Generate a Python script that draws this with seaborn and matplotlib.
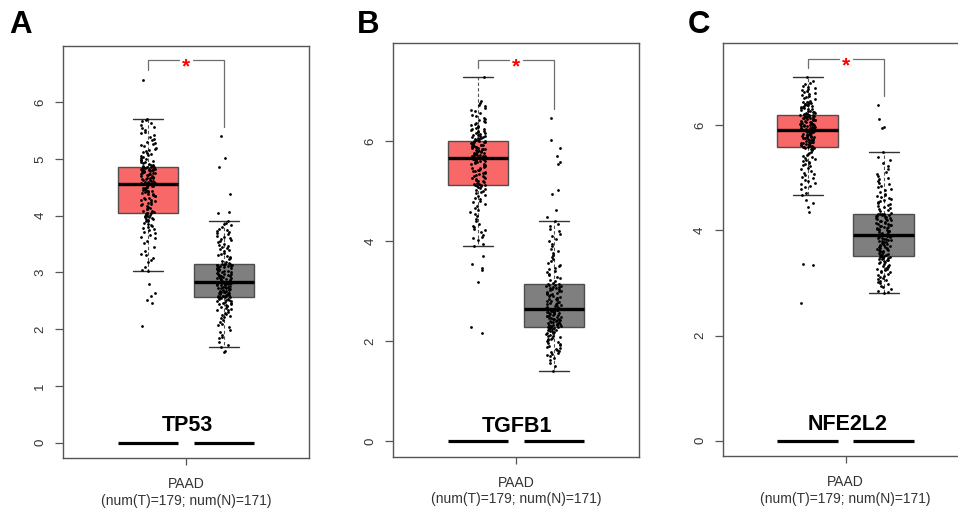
import numpy as np
import pandas as pd
import matplotlib
matplotlib.use("Agg")
import matplotlib.pyplot as plt
import seaborn as sns

# ==============================
# DATA (expression values)
# ==============================

genes = ["TP53", "TGFB1", "NFE2L2"]
panel_letters = ["A", "B", "C"]
groups = ["Tumor", "Normal"]
cancer = "PAAD"
n_tumor = 179
n_normal = 171

tp53_tumor = [
    2.05, 2.47, 2.52, 2.58, 2.63, 2.79,
    3.02, 3.05, 3.10, 3.18, 3.22, 3.25, 3.30, 3.33, 3.38, 3.45, 3.52, 3.56, 3.60,
    3.63, 3.66, 3.69, 3.71, 3.74, 3.76, 3.78, 3.80, 3.82, 3.84, 3.86, 3.88, 3.90,
    3.91, 3.93, 3.94, 3.95, 3.96, 3.97, 3.98, 3.99, 4.00, 4.01, 4.02, 4.03,
    4.04, 4.04,
    4.05, 4.06, 4.08, 4.09, 4.11, 4.12, 4.14, 4.15, 4.17, 4.18, 4.20, 4.21, 4.23,
    4.24, 4.26, 4.27, 4.28, 4.30, 4.31, 4.32, 4.34, 4.35, 4.36, 4.38, 4.39, 4.40,
    4.41, 4.42, 4.43, 4.44, 4.45, 4.46, 4.47, 4.48, 4.49, 4.50, 4.51, 4.52, 4.53,
    4.54, 4.54, 4.55, 4.55,
    4.56,
    4.57, 4.57, 4.58, 4.59, 4.60, 4.60, 4.61, 4.62, 4.63, 4.63, 4.64, 4.65, 4.66,
    4.67, 4.67, 4.68, 4.69, 4.70, 4.70, 4.71, 4.72, 4.73, 4.73, 4.74, 4.75, 4.76,
    4.76, 4.77, 4.78, 4.78, 4.79, 4.80, 4.80, 4.81, 4.81, 4.82, 4.82, 4.83, 4.83,
    4.84, 4.84, 4.84, 4.85,
    4.85, 4.85,
    4.86, 4.87, 4.88, 4.89, 4.90, 4.91, 4.92, 4.94, 4.95, 4.96, 4.98, 4.99, 5.00,
    5.02, 5.04, 5.05, 5.07, 5.08, 5.10, 5.12, 5.14, 5.16, 5.18, 5.20, 5.22, 5.24,
    5.26, 5.28, 5.30, 5.33, 5.36, 5.39, 5.42, 5.45, 5.48, 5.51, 5.54, 5.57, 5.60,
    5.63, 5.66, 5.68, 5.70,
    6.40,
]
tp53_normal = [
    1.59, 1.62,
    1.68, 1.72, 1.78, 1.84, 1.86, 1.90, 1.95, 1.99, 2.03, 2.07, 2.10, 2.13, 2.16,
    2.19, 2.21, 2.23, 2.25, 2.27, 2.29, 2.31, 2.33, 2.34, 2.36, 2.37, 2.39, 2.40,
    2.41, 2.43, 2.44, 2.45, 2.46, 2.47, 2.48, 2.49, 2.50, 2.51, 2.52, 2.53, 2.54,
    2.55,
    2.56, 2.56,
    2.57, 2.57, 2.58, 2.59, 2.59, 2.60, 2.61, 2.61, 2.62, 2.63, 2.64, 2.64, 2.65,
    2.66, 2.66, 2.67, 2.68, 2.69, 2.69, 2.70, 2.71, 2.72, 2.72, 2.73, 2.74, 2.75,
    2.75, 2.76, 2.77, 2.78, 2.78, 2.79, 2.80, 2.80, 2.81, 2.81, 2.82, 2.82, 2.83,
    2.83, 2.84,
    2.84,
    2.85, 2.86, 2.86, 2.87, 2.88, 2.89, 2.90, 2.90, 2.91, 2.92, 2.93, 2.94, 2.94,
    2.95, 2.96, 2.97, 2.98, 2.98, 2.99, 3.00, 3.01, 3.02, 3.02, 3.03, 3.04, 3.05,
    3.06, 3.06, 3.07, 3.08, 3.09, 3.10, 3.10, 3.11, 3.12, 3.12, 3.13, 3.13, 3.14,
    3.14, 3.15,
    3.15, 3.15,
    3.17, 3.19, 3.21, 3.23, 3.25, 3.27, 3.29, 3.31, 3.33, 3.35, 3.37, 3.39, 3.41,
    3.43, 3.45, 3.47, 3.49, 3.51, 3.53, 3.55, 3.57, 3.59, 3.61, 3.63, 3.65, 3.67,
    3.69, 3.71, 3.73, 3.75, 3.77, 3.80, 3.83, 3.86, 3.88, 3.90,
    4.04, 4.06, 4.38, 4.85, 5.02, 5.40,
]

tgfb1_tumor = [
    2.17, 2.28, 3.18, 3.43, 3.47, 3.55, 3.70,
    3.91, 3.95, 4.02, 4.06, 4.08, 4.12, 4.18, 4.22, 4.25, 4.28, 4.30, 4.34, 4.40,
    4.45, 4.50, 4.55, 4.58, 4.62, 4.66, 4.70, 4.74, 4.78, 4.81, 4.84, 4.87, 4.90,
    4.93, 4.96, 4.98, 5.00, 5.02, 5.04, 5.06, 5.08, 5.10, 5.11, 5.12,
    5.13, 5.13,
    5.14, 5.15, 5.17, 5.18, 5.20, 5.21, 5.23, 5.24, 5.26, 5.27, 5.29, 5.30, 5.31,
    5.33, 5.34, 5.36, 5.37, 5.38, 5.40, 5.41, 5.42, 5.43, 5.45, 5.46, 5.47, 5.48,
    5.50, 5.51, 5.52, 5.53, 5.54, 5.55, 5.57, 5.58, 5.59, 5.60, 5.61, 5.62, 5.63,
    5.64, 5.64, 5.65, 5.65,
    5.66,
    5.67, 5.67, 5.68, 5.69, 5.70, 5.70, 5.71, 5.72, 5.73, 5.73, 5.74, 5.75, 5.76,
    5.77, 5.77, 5.78, 5.79, 5.80, 5.81, 5.81, 5.82, 5.83, 5.84, 5.85, 5.85, 5.86,
    5.87, 5.88, 5.89, 5.89, 5.90, 5.91, 5.92, 5.93, 5.93, 5.94, 5.95, 5.96, 5.97,
    5.97, 5.98, 5.99, 5.99,
    6.00, 6.00,
    6.01, 6.02, 6.03, 6.04, 6.05, 6.06, 6.07, 6.08, 6.09, 6.10, 6.11, 6.12, 6.13,
    6.15, 6.16, 6.17, 6.18, 6.20, 6.21, 6.22, 6.24, 6.25, 6.27, 6.28, 6.30, 6.32,
    6.34, 6.36, 6.38, 6.40, 6.42, 6.44, 6.47, 6.50, 6.53, 6.56, 6.60, 6.63, 6.66,
    6.70, 6.73, 6.76, 6.80, 7.29,
]
tgfb1_normal = [
    1.40, 1.50, 1.56, 1.62, 1.66, 1.70, 1.72, 1.74, 1.76, 1.78, 1.80, 1.82, 1.84,
    1.86, 1.88, 1.90, 1.92, 1.94, 1.96, 1.98, 2.00, 2.02, 2.04, 2.05, 2.07, 2.08,
    2.10, 2.11, 2.13, 2.14, 2.16, 2.17, 2.18, 2.20, 2.21, 2.22, 2.23, 2.24, 2.25,
    2.26, 2.27, 2.28,
    2.29, 2.29,
    2.30, 2.31, 2.32, 2.33, 2.33, 2.34, 2.35, 2.36, 2.37, 2.38, 2.39, 2.39, 2.40,
    2.41, 2.42, 2.43, 2.44, 2.45, 2.45, 2.46, 2.47, 2.48, 2.49, 2.50, 2.51, 2.51,
    2.52, 2.53, 2.54, 2.55, 2.56, 2.57, 2.57, 2.58, 2.59, 2.60, 2.61, 2.62, 2.62,
    2.63, 2.63,
    2.64,
    2.65, 2.66, 2.67, 2.69, 2.70, 2.71, 2.72, 2.74, 2.75, 2.76, 2.77, 2.79, 2.80,
    2.81, 2.82, 2.84, 2.85, 2.86, 2.87, 2.89, 2.90, 2.91, 2.92, 2.94, 2.95, 2.96,
    2.97, 2.99, 3.00, 3.01, 3.02, 3.04, 3.05, 3.06, 3.07, 3.08, 3.09, 3.10, 3.11,
    3.12, 3.13,
    3.14, 3.14,
    3.17, 3.20, 3.23, 3.26, 3.29, 3.32, 3.35, 3.38, 3.41, 3.44, 3.47, 3.50, 3.53,
    3.56, 3.60, 3.64, 3.68, 3.72, 3.76, 3.80, 3.85, 3.90, 3.95, 4.00, 4.05, 4.10,
    4.15, 4.20, 4.25, 4.30, 4.35, 4.40,
    4.49, 4.63, 4.95, 5.03, 5.55, 5.58, 5.70, 5.86, 6.02, 6.47,
]

nfe2l2_tumor = [
    2.62, 3.35, 3.37, 4.35, 4.45, 4.52, 4.58,
    4.67, 4.72, 4.78, 4.82, 4.85, 4.88, 4.90, 4.93, 4.96, 4.99, 5.02, 5.05, 5.08,
    5.10, 5.13, 5.16, 5.19, 5.22, 5.24, 5.26, 5.28, 5.30, 5.32, 5.34, 5.36, 5.38,
    5.40, 5.42, 5.44, 5.46, 5.48, 5.50, 5.52, 5.54, 5.55, 5.56, 5.57,
    5.58, 5.58,
    5.59, 5.59, 5.60, 5.61, 5.62, 5.62, 5.63, 5.64, 5.65, 5.66, 5.66, 5.67, 5.68,
    5.69, 5.69, 5.70, 5.71, 5.72, 5.72, 5.73, 5.74, 5.75, 5.75, 5.76, 5.77, 5.78,
    5.78, 5.79, 5.80, 5.81, 5.81, 5.82, 5.83, 5.84, 5.84, 5.85, 5.86, 5.87, 5.87,
    5.88, 5.89, 5.89, 5.90,
    5.91,
    5.92, 5.92, 5.93, 5.94, 5.94, 5.95, 5.96, 5.96, 5.97, 5.98, 5.98, 5.99, 6.00,
    6.00, 6.01, 6.02, 6.02, 6.03, 6.04, 6.04, 6.05, 6.06, 6.06, 6.07, 6.08, 6.08,
    6.09, 6.10, 6.10, 6.11, 6.12, 6.12, 6.13, 6.14, 6.14, 6.15, 6.16, 6.16, 6.17,
    6.18, 6.18, 6.19, 6.19,
    6.20, 6.20,
    6.21, 6.22, 6.23, 6.24, 6.25, 6.26, 6.27, 6.28, 6.29, 6.30, 6.31, 6.32, 6.33,
    6.34, 6.35, 6.36, 6.37, 6.38, 6.39, 6.40, 6.41, 6.42, 6.43, 6.44, 6.45, 6.47,
    6.49, 6.51, 6.53, 6.55, 6.57, 6.59, 6.61, 6.63, 6.65, 6.67, 6.69, 6.71, 6.73,
    6.75, 6.78, 6.81, 6.85, 6.92,
]
nfe2l2_normal = [
    2.81, 2.82, 2.85, 2.88, 2.92, 2.95, 2.98, 3.00, 3.02, 3.04, 3.06, 3.08, 3.10,
    3.12, 3.14, 3.16, 3.18, 3.20, 3.21, 3.23, 3.24, 3.26, 3.27, 3.29, 3.30, 3.32,
    3.33, 3.35, 3.36, 3.38, 3.39, 3.40, 3.42, 3.43, 3.44, 3.45, 3.46, 3.47, 3.48,
    3.49, 3.50, 3.50,
    3.51, 3.51,
    3.52, 3.53, 3.54, 3.55, 3.56, 3.57, 3.58, 3.59, 3.60, 3.61, 3.62, 3.63, 3.64,
    3.65, 3.66, 3.67, 3.68, 3.69, 3.70, 3.71, 3.72, 3.73, 3.74, 3.75, 3.76, 3.77,
    3.78, 3.79, 3.80, 3.81, 3.82, 3.83, 3.84, 3.85, 3.86, 3.87, 3.88, 3.89, 3.90,
    3.90, 3.91,
    3.92,
    3.93, 3.94, 3.95, 3.96, 3.97, 3.98, 3.99, 4.00, 4.01, 4.02, 4.03, 4.04, 4.05,
    4.06, 4.07, 4.08, 4.09, 4.10, 4.11, 4.12, 4.13, 4.14, 4.15, 4.16, 4.17, 4.18,
    4.19, 4.20, 4.21, 4.22, 4.23, 4.24, 4.25, 4.26, 4.27, 4.28, 4.29, 4.30, 4.30,
    4.31, 4.31,
    4.32, 4.32,
    4.34, 4.36, 4.38, 4.40, 4.42, 4.44, 4.46, 4.48, 4.50, 4.52, 4.54, 4.56, 4.58,
    4.60, 4.62, 4.64, 4.66, 4.68, 4.70, 4.73, 4.76, 4.79, 4.82, 4.85, 4.88, 4.91,
    4.94, 4.97, 5.00, 5.04, 5.08, 5.12, 5.17, 5.22, 5.28, 5.34, 5.40, 5.49,
    5.95, 5.97, 6.12, 6.38,
]

tumor_values = [tp53_tumor, tgfb1_tumor, nfe2l2_tumor]
normal_values = [tp53_normal, tgfb1_normal, nfe2l2_normal]

y_ticks = [[0, 1, 2, 3, 4, 5, 6], [0, 2, 4, 6], [0, 2, 4, 6]]
y_limits = [(-0.27, 6.99), (-0.31, 7.97), (-0.29, 7.57)]

# ==============================
# STYLE
# ==============================

sns.set_style("ticks")
plt.rcParams["font.family"] = ["Liberation Sans", "DejaVu Sans"]

box_colors = {"Tumor": "#F86868", "Normal": "#7F7F7F"}
edge_color = "#4D4D4D"
bracket_color = "#6E6E6E"
box_width = 0.8
bracket_gap = 0.17

# axes rectangles in figure fractions (panel C runs off the right edge)
axes_rects = [
    [0.0658, 0.0984, 0.2568, 0.8110],
    [0.4102, 0.1010, 0.2568, 0.8150],
    [0.7544, 0.1024, 0.2568, 0.8136],
]
letter_x = [0.010, 0.373, 0.718]

np.random.seed(7)
fig = plt.figure(figsize=(9.58, 5.08), dpi=100)

for i, gene in enumerate(genes):
    ax = fig.add_axes(axes_rects[i])
    t_vals = tumor_values[i]
    n_vals = normal_values[i]
    df = pd.DataFrame({
        "group": ["Tumor"] * len(t_vals) + ["Normal"] * len(n_vals),
        "value": t_vals + n_vals,
    })

    sns.boxplot(
        data=df, x="group", y="value", order=groups, hue="group",
        palette=box_colors, saturation=1, width=box_width, showfliers=False,
        linecolor=edge_color, linewidth=1.0, legend=False, ax=ax,
        medianprops={"color": "black", "linewidth": 2.4},
        whiskerprops={"color": "#555555", "linewidth": 0.8, "linestyle": (0, (3, 2))},
        capprops={"color": "#333333", "linewidth": 1.0},
    )
    sns.stripplot(
        data=df, x="group", y="value", order=groups, color="black",
        size=2.0, jitter=0.1, linewidth=0, ax=ax, zorder=3,
    )

    # thick baseline bars under each group, as in GEPIA
    for pos in range(len(groups)):
        ax.hlines(0, pos - box_width / 2, pos + box_width / 2,
                  color="black", linewidth=2.3, zorder=2)

    # significance bracket
    left_y = max(t_vals) + bracket_gap
    top_y = left_y + bracket_gap
    right_y = max(n_vals) + bracket_gap
    ax.plot([0, 0, 0.41], [left_y, top_y, top_y], color=bracket_color, linewidth=0.9)
    ax.plot([0.59, 1, 1], [top_y, top_y, right_y], color=bracket_color, linewidth=0.9)
    ax.annotate("*", xy=(0.5, top_y), xytext=(0, -5), textcoords="offset points",
                ha="center", va="center", color="red", fontsize=15, fontweight="bold")

    ax.text(0.52, 0.3, gene, ha="center", va="center",
            fontsize=15.5, fontweight="bold", color="black")

    ax.set_xlim(-1.12, 2.12)
    ax.set_ylim(*y_limits[i])
    ax.set_yticks(y_ticks[i])
    ax.set_yticklabels([str(v) for v in y_ticks[i]], rotation=90, va="center")
    ax.set_xticks([0.5])
    ax.set_xticklabels([f"{cancer}\n(num(T)={n_tumor}; num(N)={n_normal})"])
    ax.set_xlabel("")
    ax.set_ylabel("")
    ax.tick_params(axis="y", length=6, width=0.9, pad=6, labelsize=9.5,
                   color="#555555", labelcolor="#333333")
    ax.tick_params(axis="x", length=5, width=0.9, pad=9, labelsize=10,
                   color="#555555", labelcolor="#333333")
    for side in ["left", "right", "top", "bottom"]:
        ax.spines[side].set_visible(True)
        ax.spines[side].set_color("#555555")
        ax.spines[side].set_linewidth(1.0)

    fig.text(letter_x[i], 1 - 10 / 508, panel_letters[i], ha="left", va="top",
             fontsize=22.5, fontweight="bold", color="black")

fig.savefig("out.png", dpi=100)
plt.close(fig)
